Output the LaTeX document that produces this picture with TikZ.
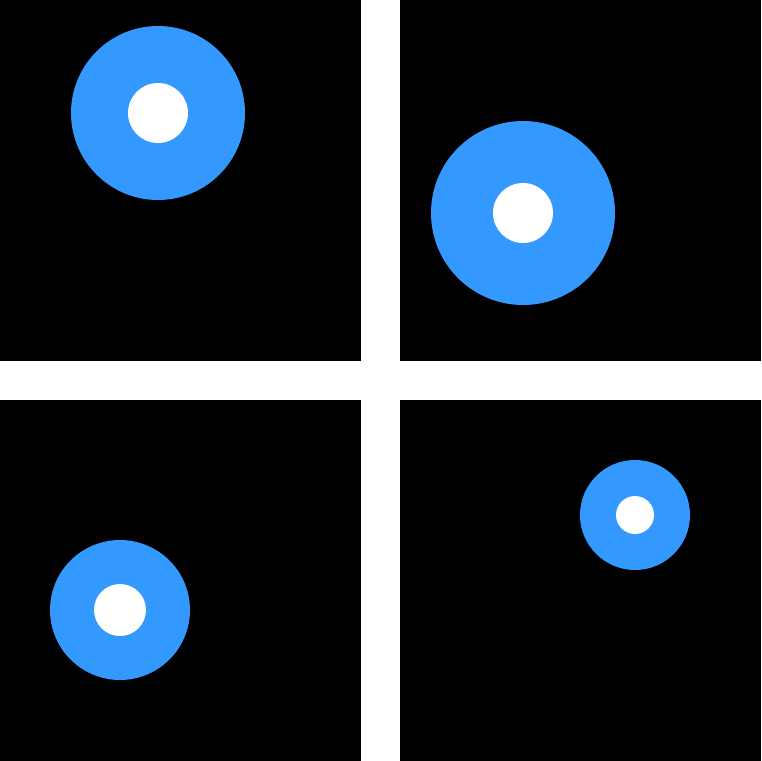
\documentclass[tikz,border=0pt]{standalone}
\definecolor{dotblue}{HTML}{3399FF}
\begin{document}
\begin{tikzpicture}[x=1pt,y=-1pt,
  panel/.style={fill=black},
  ring/.style={fill=dotblue},
  hole/.style={fill=white}]
\useasboundingbox (0,0) rectangle (761,761);
\fill[white] (0,0) rectangle (761,761);
\fill[panel] (0,0) rectangle (361,361);
\fill[panel] (400,0) rectangle (761,361);
\fill[panel] (0,400) rectangle (361,761);
\fill[panel] (400,400) rectangle (761,761);
\fill[ring] (158,113) circle (87);
\fill[hole] (158,113) circle (30);
\fill[ring] (523,213) circle (92);
\fill[hole] (523,213) circle (30);
\fill[ring] (120,610) circle (70);
\fill[hole] (120,610) circle (26);
\fill[ring] (635,515) circle (55);
\fill[hole] (635,515) circle (19);
\end{tikzpicture}
\end{document}
